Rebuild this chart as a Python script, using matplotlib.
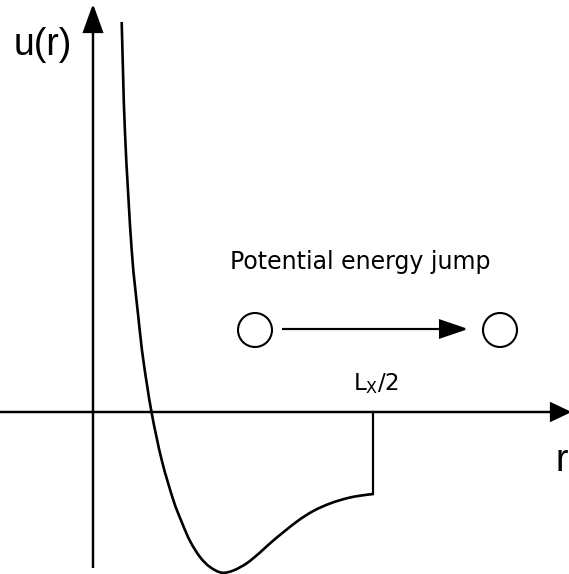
import matplotlib
matplotlib.use("Agg")
import matplotlib.pyplot as plt
import numpy as np
from matplotlib.patches import Circle, FancyArrow, PathPatch
from matplotlib.path import Path

plt.rcParams['font.family'] = ['Liberation Sans', 'DejaVu Sans']

# Schematic potential curve u(r) (arbitrary units)
r_vals = [28.7, 32, 38.7, 45.3, 50.3, 58.5, 68.7, 80.3, 88.7, 97, 107, 117, 128.7, 140.3,
          153.7, 167, 180.3, 203.7, 220.3, 237, 253.7, 267, 280.3]
u_vals = [390, 279, 162, 95.3, 52, 0, -48, -88, -110, -129, -145, -155, -160.7, -158.5,
          -151.3, -140.5, -128.5, -109.7, -99, -91.5, -86.3, -83.7, -82]
r_cut = 280.3        # L_x/2 position
u_cut = -82          # value of u at the cutoff
labels = {"y": "u(r)", "x": "r", "jump": "Potential energy jump", "cut": r"L$_\mathregular{X}$/2"}

fig = plt.figure(figsize=(5.69, 5.74), dpi=100)
ax = fig.add_axes([0, 0, 1, 1])
ax.set_xlim(-93, 476)
ax.set_ylim(-162, 412)
ax.axis('off')

lw = 1.6
# axes with arrows
ax.add_patch(FancyArrow(-93, 0, 569, 0, width=0, head_width=17, head_length=18,
                        length_includes_head=True, color='black', lw=lw))
ax.add_patch(FancyArrow(0, -156, 0, 561, width=0, head_width=18, head_length=25,
                        length_includes_head=True, color='black', lw=lw))

# smooth curve through the read points (Catmull-Rom drawn as cubic Bezier segments)
P = np.column_stack([r_vals, u_vals])
n = len(P)
verts = [tuple(P[0])]
codes = [Path.MOVETO]
for i in range(n - 1):
    p0 = P[i - 1] if i > 0 else P[i]
    p1, p2 = P[i], P[i + 1]
    p3 = P[i + 2] if i + 2 < n else P[i + 1]
    c1 = p1 + (p2 - p0) / 6.0
    c2 = p2 - (p3 - p1) / 6.0
    verts += [tuple(c1), tuple(c2), tuple(p2)]
    codes += [Path.CURVE4] * 3
ax.add_patch(PathPatch(Path(verts, codes), fill=False, ec='black', lw=1.9,
                       joinstyle='round', capstyle='butt'))
ax.plot([r_cut, r_cut], [u_cut, 0], color='black', lw=1.6)

# circles and jump arrow
ax.add_patch(Circle((162, 82), 17, fill=False, ec='black', lw=1.5))
ax.add_patch(Circle((407, 82), 17, fill=False, ec='black', lw=1.5))
ax.add_patch(FancyArrow(189, 83, 183, 0, width=0, head_width=17, head_length=25,
                        length_includes_head=True, color='black', lw=1.5))

# texts
ax.text(-79, 357, labels["y"], fontsize=27, va='baseline', ha='left')
ax.text(463, -59, labels["x"], fontsize=27, va='baseline', ha='left')
ax.text(137, 143, labels["jump"], fontsize=17, va='baseline', ha='left',
        family=['DejaVu Sans'])
ax.text(260, 22, labels["cut"], fontsize=16.5, va='baseline', ha='left',
        family=['DejaVu Sans'])

fig.savefig("out.png", dpi=100)
